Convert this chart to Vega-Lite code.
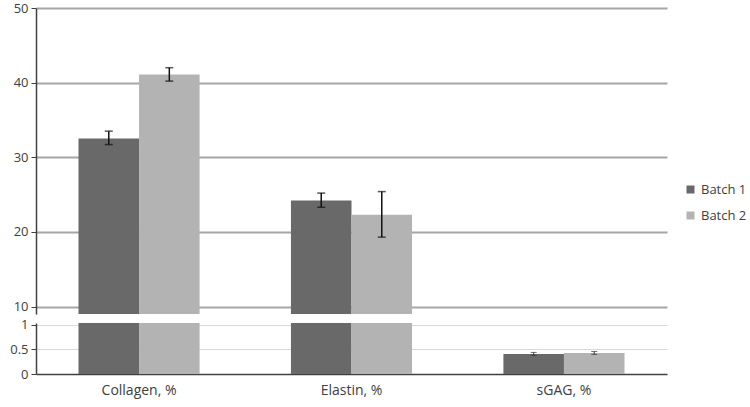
{
  "$schema": "https://vega.github.io/schema/vega-lite/v6.json",
  "background": "white",
  "padding": {"left": 9, "top": 2, "right": 2, "bottom": 5},
  "spacing": 4,
  "config": {
    "view": {"stroke": null},
    "font": "Open Sans",
    "axis": {"labelFont": "Open Sans", "labelFontSize": 13, "labelColor": "#404040", "title": null}
  },
  "data": {
    "values": [
      {"component": "Collagen, %", "batch": "Batch 1", "value": 32.5, "lo": 31.7, "hi": 33.5},
      {"component": "Collagen, %", "batch": "Batch 2", "value": 41.1, "lo": 40.2, "hi": 42.0},
      {"component": "Elastin, %", "batch": "Batch 1", "value": 24.2, "lo": 23.3, "hi": 25.2},
      {"component": "Elastin, %", "batch": "Batch 2", "value": 22.3, "lo": 19.3, "hi": 25.4},
      {"component": "sGAG, %", "batch": "Batch 1", "value": 0.41, "lo": 0.38, "hi": 0.44},
      {"component": "sGAG, %", "batch": "Batch 2", "value": 0.43, "lo": 0.4, "hi": 0.46}
    ]
  },
  "resolve": {"scale": {"y": "independent"}, "axis": {"y": "independent"}},
  "vconcat": [
    {
      "width": 631,
      "height": 306,
      "encoding": {
        "x": {"field": "component", "type": "nominal", "sort": null, "scale": {"paddingInner": 0.43}, "axis": null},
        "xOffset": {"field": "batch", "type": "nominal", "sort": ["Batch 1", "Batch 2"]}
      },
      "layer": [
        {
          "mark": {"type": "bar", "clip": true},
          "encoding": {
            "y": {"field": "value", "type": "quantitative", "scale": {"domain": [9, 50], "zero": false, "nice": false},
              "axis": {"values": [10, 20, 30, 40, 50], "grid": true, "gridColor": "#a6a6a6", "gridWidth": 2, "domainColor": "#404040", "domainWidth": 1.5, "tickColor": "#404040", "tickSize": 5, "labelPadding": 3, "minExtent": 25, "maxExtent": 25}},
            "color": {"field": "batch", "type": "nominal", "scale": {"domain": ["Batch 1", "Batch 2"], "range": ["#696969", "#b3b3b3"]},
              "legend": {"title": null, "orient": "none", "legendX": 648, "legendY": 175, "symbolType": "square", "symbolSize": 64, "symbolStrokeWidth": 0, "labelFontSize": 13, "labelColor": "#404040", "rowPadding": 12, "labelFont": "Open Sans"}}
          }
        },
        {
          "mark": {"type": "rule", "clip": true, "color": "#111111", "strokeWidth": 1.5},
          "encoding": {"y": {"field": "lo", "type": "quantitative",
              "axis": {"values": [10, 20, 30, 40, 50], "grid": true, "gridColor": "#a6a6a6", "gridWidth": 2, "domainColor": "#404040", "domainWidth": 1.5, "tickColor": "#404040", "tickSize": 5, "labelPadding": 3, "minExtent": 25, "maxExtent": 25}}, "y2": {"field": "hi"}}
        },
        {
          "mark": {"type": "tick", "clip": true, "color": "#111111", "size": 8, "thickness": 1.5},
          "encoding": {"y": {"field": "lo", "type": "quantitative",
              "axis": {"values": [10, 20, 30, 40, 50], "grid": true, "gridColor": "#a6a6a6", "gridWidth": 2, "domainColor": "#404040", "domainWidth": 1.5, "tickColor": "#404040", "tickSize": 5, "labelPadding": 3, "minExtent": 25, "maxExtent": 25}}}
        },
        {
          "mark": {"type": "tick", "clip": true, "color": "#111111", "size": 8, "thickness": 1.5},
          "encoding": {"y": {"field": "hi", "type": "quantitative",
              "axis": {"values": [10, 20, 30, 40, 50], "grid": true, "gridColor": "#a6a6a6", "gridWidth": 2, "domainColor": "#404040", "domainWidth": 1.5, "tickColor": "#404040", "tickSize": 5, "labelPadding": 3, "minExtent": 25, "maxExtent": 25}}}
        }
      ]
    },
    {
      "width": 631,
      "height": 51,
      "encoding": {
        "x": {"field": "component", "type": "nominal", "sort": null, "scale": {"paddingInner": 0.43},
          "axis": {"labelAngle": 0, "ticks": false, "domainColor": "#404040", "domainWidth": 1.5, "labelPadding": 9, "labelFontSize": 14}},
        "xOffset": {"field": "batch", "type": "nominal", "sort": ["Batch 1", "Batch 2"]}
      },
      "layer": [
        {
          "mark": {"type": "bar", "clip": true},
          "encoding": {
            "y": {"field": "value", "type": "quantitative", "scale": {"domain": [0, 1.04], "nice": false},
              "axis": {"values": [0, 0.5, 1], "format": "~g", "labelOverlap": false, "grid": true, "gridColor": "#d9d9d9", "gridWidth": 1, "domainColor": "#404040", "domainWidth": 1.5, "tickColor": "#404040", "tickSize": 5, "labelPadding": 3, "minExtent": 25, "maxExtent": 25}},
            "color": {"field": "batch", "type": "nominal"}
          }
        },
        {
          "mark": {"type": "rule", "clip": true, "color": "#333333", "strokeWidth": 1},
          "encoding": {"y": {"field": "lo", "type": "quantitative",
              "axis": {"values": [0, 0.5, 1], "format": "~g", "labelOverlap": false, "grid": true, "gridColor": "#d9d9d9", "gridWidth": 1, "domainColor": "#404040", "domainWidth": 1.5, "tickColor": "#404040", "tickSize": 5, "labelPadding": 3, "minExtent": 25, "maxExtent": 25}}, "y2": {"field": "hi"}}
        },
        {
          "mark": {"type": "tick", "clip": true, "color": "#333333", "size": 6, "thickness": 1},
          "encoding": {"y": {"field": "lo", "type": "quantitative",
              "axis": {"values": [0, 0.5, 1], "format": "~g", "labelOverlap": false, "grid": true, "gridColor": "#d9d9d9", "gridWidth": 1, "domainColor": "#404040", "domainWidth": 1.5, "tickColor": "#404040", "tickSize": 5, "labelPadding": 3, "minExtent": 25, "maxExtent": 25}}}
        },
        {
          "mark": {"type": "tick", "clip": true, "color": "#333333", "size": 6, "thickness": 1},
          "encoding": {"y": {"field": "hi", "type": "quantitative",
              "axis": {"values": [0, 0.5, 1], "format": "~g", "labelOverlap": false, "grid": true, "gridColor": "#d9d9d9", "gridWidth": 1, "domainColor": "#404040", "domainWidth": 1.5, "tickColor": "#404040", "tickSize": 5, "labelPadding": 3, "minExtent": 25, "maxExtent": 25}}}
        }
      ]
    }
  ]
}
